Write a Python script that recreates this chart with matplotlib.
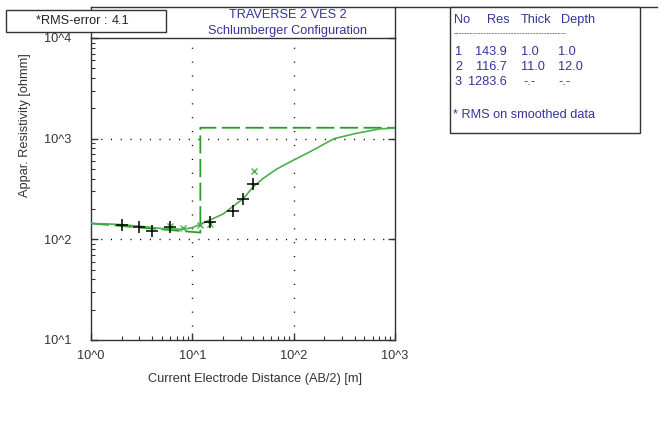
import matplotlib
matplotlib.use("Agg")
import matplotlib.pyplot as plt
from matplotlib.patches import Rectangle
from matplotlib.lines import Line2D
from matplotlib.ticker import FixedLocator, FixedFormatter, LogLocator, NullFormatter

plt.rcParams['font.family'] = ['Liberation Sans', 'DejaVu Sans']
plt.rcParams['lines.scale_dashes'] = False

# ---------------- data ----------------
obs_ab2 = [2.0, 3.0, 4.0, 6.0, 15.0, 25.0, 31.5, 40.0]
obs_rho = [139, 133, 121, 133, 150, 191, 253, 352]

smooth_ab2 = [6.0, 8.15, 12.0, 15.0, 40.6]
smooth_rho = [136, 131, 140, 142, 476]

curve_ab2 = [1, 1.5, 2, 3, 4, 5, 6, 7.5, 9, 10, 12, 15, 20, 25, 32, 40, 50,
             68, 93, 145, 250, 400, 700, 1000]
curve_rho = [144, 142, 140, 135, 131, 128, 127, 126, 128, 131, 141, 156, 178,
             211, 255, 333, 403, 499, 590, 741, 1000, 1120, 1250, 1275]

layer_no = [1, 2, 3]
layer_res = [143.9, 116.7, 1283.6]
layer_thick = [1.0, 11.0]
layer_depth = [1.0, 12.0]

x_ticks = [1, 10, 100, 1000]
x_tick_labels = ["10^0", "10^1", "10^2", "10^3"]
y_ticks = [10, 100, 1000, 10000]
y_tick_labels = ["10^1", "10^2", "10^3", "10^4"]

rms_error = 4.1
title_lines = ["TRAVERSE 2 VES 2", "Schlumberger Configuration"]

# ---------------- figure ----------------
W, H = 672, 445
fig = plt.figure(figsize=(W / 100, H / 100), dpi=100)
fig.patch.set_facecolor('white')


def fx(px):
    return px / W


def fy(py):
    return 1 - py / H


BLUE = '#34349a'
GREEN_D = '#2a9a2a'
GREEN_L = '#4cae4c'
FRAME = '#333333'
FS = 9.2

ax_l, ax_r, ax_t, ax_b = 91, 395, 38, 340
ax = fig.add_axes([fx(ax_l), fy(ax_b), (ax_r - ax_l) / W, (ax_b - ax_t) / H])
ax.set_xscale('log')
ax.set_yscale('log')
ax.set_xlim(1, 1000)
ax.set_ylim(10, 10000)
for s in ax.spines.values():
    s.set_color(FRAME)
    s.set_linewidth(1.0)

# grid (sparse dotted)
for gx in [10, 100]:
    ax.axvline(gx, color='black', lw=1.0, linestyle=(0, (0.8, 9.2)), zorder=1)
for gy in [100, 1000]:
    ax.axhline(gy, color='black', lw=1.0, linestyle=(0, (0.8, 6.2)), zorder=1)

# model (layered) dashed line
step_x = [layer_depth[0], layer_depth[1], layer_depth[1], ax.get_xlim()[1]]
step_y = [layer_res[0], layer_res[1], layer_res[2], layer_res[2]]
ax.plot(step_x, step_y, color=GREEN_D, lw=1.3, linestyle=(0, (13, 4)), zorder=3)

# fitted curve
ax.plot(curve_ab2, curve_rho, color=GREEN_L, lw=1.2, zorder=4)

# smoothed data (x) and observed data (+)
ax.plot(smooth_ab2, smooth_rho, linestyle='none', marker='x', ms=5,
        mew=1.0, color=GREEN_L, zorder=5)
ax.plot(obs_ab2, obs_rho, linestyle='none', marker='+', ms=8,
        mew=1.1, color='black', zorder=6)

# ticks
ax.xaxis.set_major_locator(FixedLocator(x_ticks))
ax.xaxis.set_major_formatter(FixedFormatter(x_tick_labels))
ax.yaxis.set_major_locator(FixedLocator(y_ticks))
ax.yaxis.set_major_formatter(FixedFormatter(y_tick_labels))
ax.xaxis.set_minor_locator(LogLocator(base=10, subs=range(2, 10)))
ax.yaxis.set_minor_locator(LogLocator(base=10, subs=range(2, 10)))
ax.xaxis.set_minor_formatter(NullFormatter())
ax.yaxis.set_minor_formatter(NullFormatter())
ax.tick_params(axis='both', which='major', direction='in', length=5,
               width=1.0, color=FRAME, labelsize=FS, labelcolor='#333333')
ax.tick_params(axis='both', which='minor', direction='in', length=3,
               width=0.8, color=FRAME)
ax.tick_params(axis='x', which='major', pad=7)
ax.tick_params(axis='y', which='major', pad=14)
ax.tick_params(axis='y', which='major', right=True)
ax.tick_params(axis='y', which='minor', right=False)
ax.tick_params(axis='x', which='both', top=False)

fig.text(fx(25), fy(125), "Appar. Resistivity [ohmm]", rotation=90,
         ha='center', va='center', fontsize=FS, color='#333333')
fig.text(fx(255), fy(379), "Current Electrode Distance (AB/2) [m]",
         ha='center', va='center', fontsize=FS, color='#333333')

# frame lines above plot (title box + top line)
fig.add_artist(Line2D([fx(91), fx(657)], [fy(7), fy(7)], color=FRAME, lw=1.0))
fig.add_artist(Line2D([fx(91), fx(91)], [fy(7), fy(ax_t)], color=FRAME, lw=1.0))
fig.add_artist(Line2D([fx(395), fx(395)], [fy(7), fy(ax_t)], color=FRAME, lw=1.0))

fig.text(fx(288), fy(15), title_lines[0], ha='center', va='center',
         fontsize=FS, color=BLUE)
fig.text(fx(288), fy(31), title_lines[1], ha='center', va='center',
         fontsize=FS, color=BLUE)

# RMS box
fig.add_artist(Rectangle((fx(6), fy(32)), (166 - 6) / W, (32 - 10) / H,
                         transform=fig.transFigure, facecolor='white',
                         edgecolor=FRAME, lw=1.0, zorder=10))
fig.text(fx(36), fy(21), "*RMS-error :", ha='left', va='center',
         fontsize=FS, color='#222222', zorder=11)
fig.text(fx(112), fy(21), f"{rms_error}", ha='left', va='center',
         fontsize=FS, color='#222222', zorder=11)

# layer table box
fig.add_artist(Rectangle((fx(450), fy(133)), (640 - 450) / W, (133 - 7) / H,
                         transform=fig.transFigure, facecolor='white',
                         edgecolor=FRAME, lw=1.0, zorder=10))
hdr_y = 20
fig.text(fx(454), fy(hdr_y), "No", ha='left', va='center', fontsize=FS, color=BLUE, zorder=11)
fig.text(fx(487), fy(hdr_y), "Res", ha='left', va='center', fontsize=FS, color=BLUE, zorder=11)
fig.text(fx(521), fy(hdr_y), "Thick", ha='left', va='center', fontsize=FS, color=BLUE, zorder=11)
fig.text(fx(561), fy(hdr_y), "Depth", ha='left', va='center', fontsize=FS, color=BLUE, zorder=11)
fig.text(fx(454), fy(34), "-" * 41, ha='left', va='center', fontsize=6,
         color=BLUE, zorder=11)
row_y = [52, 67, 82]
for i, n in enumerate(layer_no):
    yy = fy(row_y[i])
    fig.text(fx(462), yy, str(n), ha='right', va='center', fontsize=FS, color=BLUE, zorder=11)
    fig.text(fx(507), yy, f"{layer_res[i]:.1f}", ha='right', va='center',
             fontsize=FS, color=BLUE, zorder=11)
    if i < len(layer_thick):
        fig.text(fx(521), yy, f"{layer_thick[i]:.1f}", ha='left', va='center',
                 fontsize=FS, color=BLUE, zorder=11)
        fig.text(fx(558), yy, f"{layer_depth[i]:.1f}", ha='left', va='center',
                 fontsize=FS, color=BLUE, zorder=11)
    else:
        fig.text(fx(523), yy, "-.-", ha='left', va='center', fontsize=FS, color=BLUE, zorder=11)
        fig.text(fx(558), yy, "-.-", ha='left', va='center', fontsize=FS, color=BLUE, zorder=11)
fig.text(fx(453), fy(115), "* RMS on smoothed data", ha='left', va='center',
         fontsize=FS, color=BLUE, zorder=11)

fig.savefig("out.png", dpi=100, facecolor='white')
